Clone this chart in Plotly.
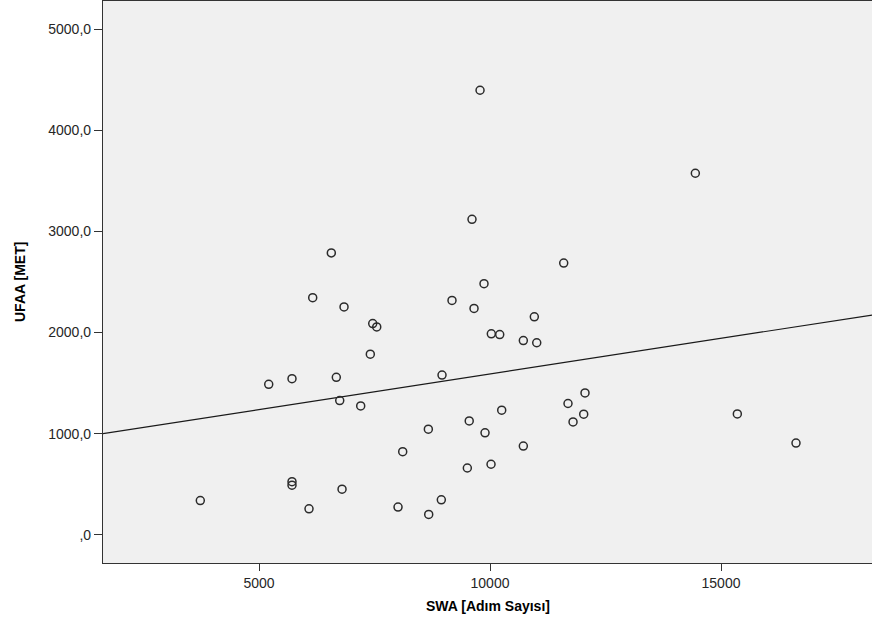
import numpy as np
import plotly.graph_objects as go

# Data (SWA steps vs UFAA MET)
swa_steps = [3729, 5210, 5714, 5714, 5714, 6082, 6162, 6565, 6673, 6747,
             6797, 6840, 7201, 7409, 7461, 7548, 8009, 8110, 8665, 8673,
             8946, 8961, 9177, 9509, 9550, 9610, 9654, 9784, 9870, 9892,
             10022, 10028, 10210, 10253, 10721, 10721, 10959, 11011, 11595, 11688,
             11797, 12028, 12056, 14444, 15353, 16623]
ufaa_met = [338, 1488, 1544, 525, 490, 256, 2345, 2788, 1557, 1327,
            450, 2253, 1274, 1786, 2089, 2056, 273, 821, 1044, 200,
            345, 1579, 2318, 660, 1126, 3120, 2239, 4397, 2483, 1008,
            697, 1987, 1980, 1232, 1921, 877, 2155, 1899, 2687, 1298,
            1116, 1192, 1402, 3576, 1195, 906]

x_tick_vals = [5000, 10000, 15000]
x_tick_text = ["5000", "10000", "15000"]
y_tick_vals = [0, 1000, 2000, 3000, 4000, 5000]
y_tick_text = [",0", "1000,0", "2000,0", "3000,0", "4000,0", "5000,0"]
x_title = "SWA [Adım Sayısı]"
y_title = "UFAA [MET]"

x_range = [1623, 18268]
y_range = [-280, 5280]

slope, intercept = np.polyfit(swa_steps, ufaa_met, 1)
line_x = np.array(x_range)
line_y = intercept + slope * line_x

fig = go.Figure()
fig.add_trace(go.Scatter(
    x=line_x, y=line_y, mode="lines",
    line=dict(color="#1a1a1a", width=1.2),
    hoverinfo="skip", showlegend=False,
))
fig.add_trace(go.Scatter(
    x=swa_steps, y=ufaa_met, mode="markers",
    marker=dict(symbol="circle-open", size=8, color="#2b2b2b",
                line=dict(width=1.5, color="#2b2b2b")),
    showlegend=False,
))

axis_font = dict(family="Liberation Sans, Arial, sans-serif", size=14, color="#262626")
title_font = dict(family="Liberation Sans, Arial, sans-serif", size=14, color="#000000")

fig.update_layout(
    width=872, height=629,
    margin=dict(l=103, r=0, t=1, b=66),
    paper_bgcolor="white",
    plot_bgcolor="#f0f0f0",
    xaxis=dict(
        range=x_range, tickvals=x_tick_vals, ticktext=x_tick_text,
        showgrid=False, zeroline=False, automargin=False,
        showline=True, linecolor="#333333", linewidth=1.2, mirror=True,
        ticks="outside", ticklen=7, tickcolor="#333333", tickwidth=1.2,
        tickfont=axis_font,
    ),
    yaxis=dict(
        range=y_range, tickvals=y_tick_vals, ticktext=y_tick_text,
        showgrid=False, zeroline=False, automargin=False,
        showline=True, linecolor="#333333", linewidth=1.2, mirror=True,
        ticks="outside", ticklen=8, tickcolor="#333333", tickwidth=1.2,
        tickfont=axis_font,
    ),
    annotations=[
        dict(text="<b>" + x_title + "</b>", xref="paper", yref="paper",
             x=0.5, y=0, xanchor="center", yanchor="middle", yshift=-43,
             showarrow=False, font=title_font),
        dict(text="<b>" + y_title + "</b>", xref="paper", yref="paper",
             x=0, y=0.5, xanchor="center", yanchor="middle", xshift=-83,
             textangle=-90, showarrow=False, font=title_font),
    ],
)

post_js = (
    "document.body.style.margin='0';"
    "document.body.style.padding='0';"
    "document.body.style.overflow='hidden';"
    "var gd=document.getElementById('{plot_id}');"
    "Plotly.relayout(gd,{width:872,height:629});"
)

fig.write_html("out.html", config={"responsive": False, "displayModeBar": False},
               post_script=post_js)
